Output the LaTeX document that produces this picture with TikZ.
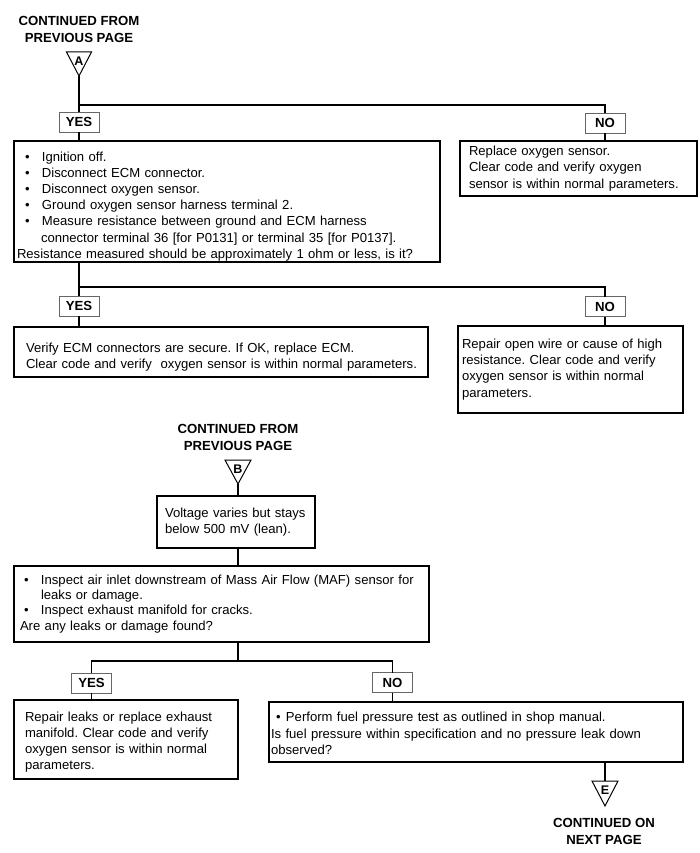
\documentclass[tikz,border=0pt]{standalone}
\usepackage{fontspec}
\setmainfont{Liberation Sans}
\frenchspacing
\newcommand\bodyf{\fontsize{13.1}{16.2}\selectfont\frenchspacing}
\newcommand\lblf{\bfseries\fontsize{13.2}{17}\selectfont}
\newcommand\trif{\bfseries\fontsize{12.5}{12.5}\selectfont}
\newcommand\bulA{\hspace*{8pt}\makebox[17pt][l]{\textbullet}}
\newcommand\bulB{\hspace*{4pt}\makebox[17pt][l]{\textbullet}}
\newcommand\bulC{\hspace*{5pt}\makebox[10pt][l]{\textbullet}}
\begin{document}
\begin{tikzpicture}[x=1pt,y=-1pt,
  box/.style={draw=black, line width=1.1pt, rectangle, anchor=north west,
    outer sep=0pt, inner xsep=0pt, inner ysep=0pt, align=left, font=\bodyf},
  lbl/.style={draw=black!60, line width=0.9pt, rectangle, minimum width=40pt,
    minimum height=20pt, inner sep=0pt, outer sep=0pt, font=\lblf},
  tri/.style={draw=black, line width=1pt, line join=miter},
  trilet/.style={font=\trif, inner sep=0pt},
  head/.style={font=\lblf, align=center, inner sep=0pt},
  ln/.style={line width=1.1pt}]
\useasboundingbox (0,0) rectangle (700,853);

% ---- part A ----
\node[head] (cfA) at (79,29.5) {CONTINUED FROM\\PREVIOUS PAGE};
\draw[tri] (66.5,52) -- (91.5,52) -- (79,76) -- cycle;
\coordinate (aA) at (79,76);
\node[trilet] (la) at (79,61) {A};

\node[lbl] (yes1) at (79,122) {YES};
\node[lbl] (no1) at (605,123) {NO};

\node[box, text width=426pt, minimum height=121pt] (b1) at (14,141)
 {\leftskip=3pt\rule{0pt}{19pt}%
  \bulA Ignition off.\\
  \bulA Disconnect ECM connector.\\
  \bulA Disconnect oxygen sensor.\\
  \bulA Ground oxygen sensor harness terminal 2.\\
  \bulA Measure resistance between ground and ECM harness\\
  \hspace*{24pt}connector terminal 36 [for P0131] or terminal 35 [for P0137].\\
  Resistance measured should be approximately 1 ohm or less, is it?\par};

\node[box, text width=237pt, minimum height=55pt] (r1) at (460,141)
 {\leftskip=9pt Replace oxygen sensor.\\
  Clear code and verify oxygen\\
  sensor is within normal parameters.\par};

\coordinate (s1) at (79,105);
\draw[ln] (aA) -- (yes1.north);
\draw[ln] (s1) -| (no1.north);
\draw[ln] (yes1.south) -- (yes1.south |- b1.north);
\draw[ln] (no1.south) -- (no1.south |- r1.north);

\node[lbl] (yes2) at (79,306) {YES};
\node[lbl] (no2) at (605,306.5) {NO};

\node[box, text width=414pt, minimum height=50pt] (r2a) at (14,327)
 {\leftskip=12pt\rule{0pt}{19.5pt}%
  Verify ECM connectors are secure. If OK, replace ECM.\\
  Clear code and verify\ \ oxygen sensor is within normal parameters.\par};

\node[box, text width=225pt, minimum height=87pt] (r2b) at (458,326)
 {\leftskip=4pt Repair open wire or cause of high\\
  resistance. Clear code and verify\\
  oxygen sensor is within normal\\
  parameters.\par};

\coordinate (s2) at (79,287);
\draw[ln] (yes1.south |- b1.south) -- (yes2.north);
\draw[ln] (s2) -| (no2.north);
\draw[ln] (yes2.south) -- (yes2.south |- r2a.north);
\draw[ln] (no2.south) -- (no2.south |- r2b.north);

% ---- part B ----
\node[head] (cfB) at (238,437.5) {CONTINUED FROM\\PREVIOUS PAGE};
\draw[tri] (225,460) -- (251,460) -- (238,484) -- cycle;
\coordinate (bA) at (238,484);
\node[trilet] (lb) at (238,469) {B};

\node[box, text width=158pt, minimum height=52pt] (v) at (157,496)
 {\leftskip=8pt Voltage varies but stays\\
  below 500 mV (lean).\par\vspace*{4pt}};

\node[box, text width=415pt, minimum height=76pt] (ins) at (14,566)
 {\leftskip=6pt\fontsize{13.1}{15.2}\selectfont
  \bulB Inspect air inlet downstream of Mass Air Flow (MAF) sensor for\\
  \hspace*{21pt}leaks or damage.\\
  \bulB Inspect exhaust manifold for cracks.\\
  Are any leaks or damage found?\par};

\draw[ln] (bA) -- (bA |- v.north);
\draw[ln] (bA |- v.south) -- (bA |- ins.north);

\node[lbl] (yes3) at (91.5,683) {YES};
\node[lbl] (no3) at (392.5,682.5) {NO};
\coordinate (s3) at (238,661);
\draw[ln] (bA |- ins.south) -- (s3);
\draw[ln] (yes3.north) |- (s3) -| (no3.north);

\node[box, text width=224pt, minimum height=79pt] (r3a) at (14,700)
 {\leftskip=11pt\rule{0pt}{14.5pt}Repair leaks or replace exhaust\\
  manifold. Clear code and verify\\
  oxygen sensor is within normal\\
  parameters.\par};

\node[box, text width=414pt, minimum height=60pt] (pf) at (269,702)
 {\leftskip=2pt\rule{0pt}{12.5pt}%
  \bulC Perform fuel pressure test as outlined in shop manual.\\
  Is fuel pressure within specification and no pressure leak down\\
  observed?\par};

\draw[ln] (yes3.south) -- (yes3.south |- r3a.north);
\draw[ln] (no3.south) -- (no3.south |- pf.north);

% ---- E ----
\coordinate (eT) at (605,781);
\draw[ln] (eT |- pf.south) -- (eT);
\draw[tri] (592,781) -- (618,781) -- (605,806) -- cycle;
\node[trilet] (le) at (605,790) {E};
\node[head] (cnE) at (604,831.5) {CONTINUED ON\\NEXT PAGE};
\end{tikzpicture}
\end{document}
